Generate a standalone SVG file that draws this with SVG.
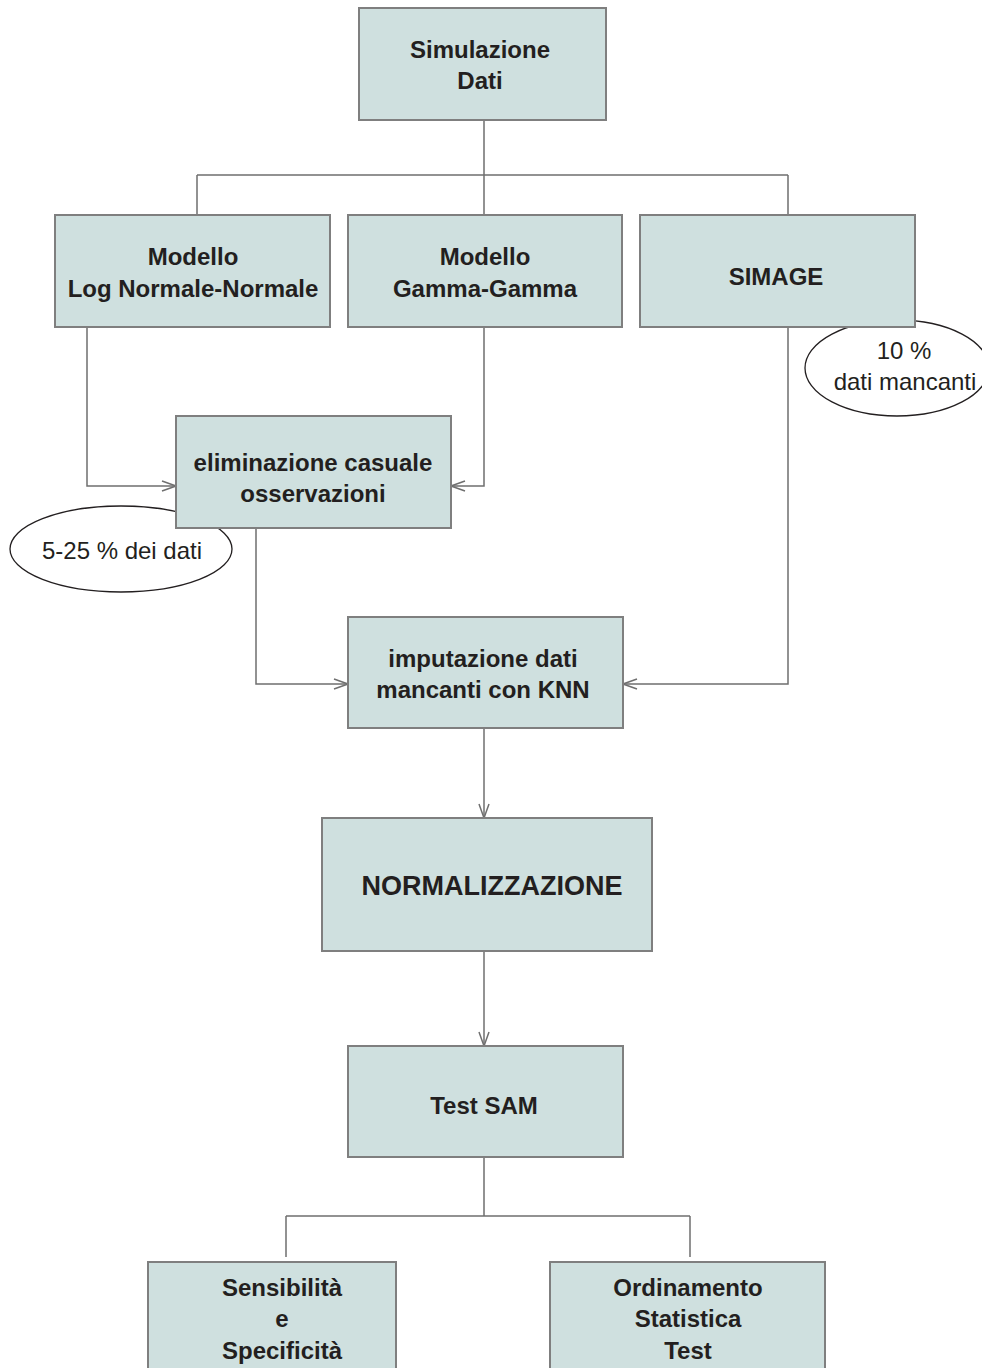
<svg xmlns="http://www.w3.org/2000/svg" width="982" height="1368" viewBox="0 0 982 1368">
<style>
.box{fill:#cfe0df;stroke:#7f7f7f;stroke-width:2}
.t{font-family:"Liberation Sans",Arial,sans-serif;font-weight:bold;font-size:24px;fill:#231f20;text-anchor:middle}
.e{fill:#fff;stroke:#231f20;stroke-width:1.3}
.et{font-family:"Liberation Sans",Arial,sans-serif;font-size:24px;fill:#231f20;text-anchor:middle}
.c{fill:none;stroke:#6f6f6f;stroke-width:1.5}
</style>
<defs>
<marker id="arr" viewBox="0 0 16 12" refX="15" refY="6" markerWidth="16" markerHeight="12" markerUnits="userSpaceOnUse" orient="auto">
<path d="M1,1 L15,6 L1,11" fill="none" stroke="#6f6f6f" stroke-width="1.5"/>
</marker>
</defs>
<rect width="982" height="1368" fill="#fff"/>
<g id="note-10">
<ellipse class="e" cx="897" cy="368" rx="92" ry="48"/>
<text class="et" x="904" y="359">10 %</text>
<text class="et" x="905" y="390">dati mancanti</text>
</g>
<g id="note-5-25">
<ellipse class="e" cx="121" cy="549" rx="111" ry="43"/>
<text class="et" x="122" y="559">5-25 % dei dati</text>
</g>
<g id="connectors">
<path class="c" d="M484,120 V175 M197,175 H788 M197,175 V215 M484,175 V215 M788,175 V215"/>
<path class="c" d="M87,327 V486 H176" marker-end="url(#arr)"/>
<path class="c" d="M484,327 V486 H451" marker-end="url(#arr)"/>
<path class="c" d="M256,528 V684 H348" marker-end="url(#arr)"/>
<path class="c" d="M788,327 V684 H623" marker-end="url(#arr)"/>
<path class="c" d="M484,728 V818" marker-end="url(#arr)"/>
<path class="c" d="M484,951 V1046" marker-end="url(#arr)"/>
<path class="c" d="M484,1157 V1216 M286,1216 H690 M286,1216 V1257 M690,1216 V1257"/>
</g>
<g id="simulazione">
<rect class="box" x="359" y="8" width="247" height="112"/>
<text class="t" x="480" y="58">Simulazione</text>
<text class="t" x="480" y="89">Dati</text>
</g>
<g id="lognormale">
<rect class="box" x="55" y="215" width="275" height="112"/>
<text class="t" x="193" y="265">Modello</text>
<text class="t" x="193" y="297">Log Normale-Normale</text>
</g>
<g id="gamma">
<rect class="box" x="348" y="215" width="274" height="112"/>
<text class="t" x="485" y="265">Modello</text>
<text class="t" x="485" y="297">Gamma-Gamma</text>
</g>
<g id="simage">
<rect class="box" x="640" y="215" width="275" height="112"/>
<text class="t" x="776" y="285">SIMAGE</text>
</g>
<g id="eliminazione">
<rect class="box" x="176" y="416" width="275" height="112"/>
<text class="t" x="313" y="471">eliminazione casuale</text>
<text class="t" x="313" y="502">osservazioni</text>
</g>
<g id="imputazione">
<rect class="box" x="348" y="617" width="275" height="111"/>
<text class="t" x="483" y="667">imputazione dati</text>
<text class="t" x="483" y="698">mancanti con KNN</text>
</g>
<g id="normalizzazione">
<rect class="box" x="322" y="818" width="330" height="133"/>
<text class="t" x="492" y="895" style="font-size:27px">NORMALIZZAZIONE</text>
</g>
<g id="testsam">
<rect class="box" x="348" y="1046" width="275" height="111"/>
<text class="t" x="484" y="1114">Test SAM</text>
</g>
<g id="sensibilita">
<rect class="box" x="148" y="1262" width="248" height="120"/>
<text class="t" x="282" y="1296">Sensibilità</text>
<text class="t" x="282" y="1327">e</text>
<text class="t" x="282" y="1359">Specificità</text>
</g>
<g id="ordinamento">
<rect class="box" x="550" y="1262" width="275" height="120"/>
<text class="t" x="688" y="1296">Ordinamento</text>
<text class="t" x="688" y="1327">Statistica</text>
<text class="t" x="688" y="1359">Test</text>
</g>
</svg>
